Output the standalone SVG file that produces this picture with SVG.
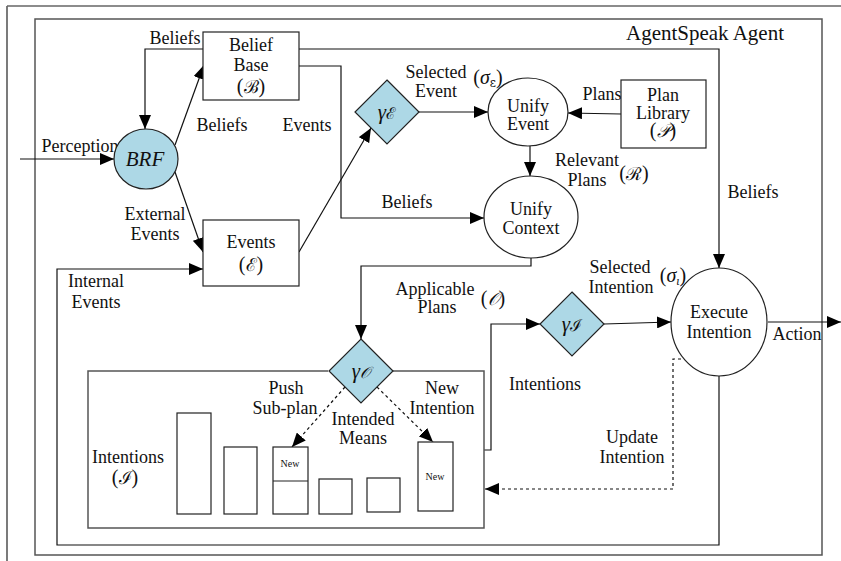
<svg xmlns="http://www.w3.org/2000/svg" width="841" height="561" viewBox="0 0 841 561">
  <style>
    text { font-family: "Liberation Serif", "DejaVu Serif", serif; font-size: 18px; fill: #111; text-anchor: middle; }
    .big { font-size: 21px; }
    .math { font-family: "DejaVu Serif", "Liberation Serif", serif; font-size: 18px; }
    .it { font-style: italic; }
    .tiny { font-size: 10px; }
    .frame { fill: none; stroke: #555; stroke-width: 1.5; }
    .box { fill: #fff; stroke: #222; stroke-width: 1.2; }
    .sel { fill: #add8e6; stroke: #222; stroke-width: 1.2; }
    .conn { fill: none; stroke: #111; stroke-width: 1.2; }
    .dash { stroke-dasharray: 3 3; }
  </style>
  <defs>
    <marker id="arrow" viewBox="0 0 14 12" markerWidth="14" markerHeight="12" refX="14" refY="6" orient="auto" markerUnits="userSpaceOnUse">
      <path d="M0,0 L14,6 L0,12 z" fill="#000"/>
    </marker>
  </defs>

  <!-- outer frame -->
  <path d="M7,561 V6" stroke="#222" stroke-width="1.2" fill="none"/>
  <path d="M7,6 H841" stroke="#666" stroke-width="1.5" fill="none"/>
  <!-- agent boundary -->
  <g id="agent">
    <rect class="frame" x="35" y="19" width="787" height="536"/>
    <text class="big" x="705" y="40">AgentSpeak Agent</text>
  </g>

  <g id="connectors">
    <path class="conn" d="M20,159 H114" marker-end="url(#arrow)"/>
    <path class="conn" d="M203,49 H145 V129" marker-end="url(#arrow)"/>
    <path class="conn" d="M175,145 L204,65" marker-end="url(#arrow)"/>
    <path class="conn" d="M175,172 L203,252" marker-end="url(#arrow)"/>
    <path class="conn" d="M299,49 H719 V268" marker-end="url(#arrow)"/>
    <path class="conn" d="M299,66 H341 V218 H484" marker-end="url(#arrow)"/>
    <path class="conn" d="M299,252 L371,128" marker-end="url(#arrow)"/>
    <path class="conn" d="M419,112 H488" marker-end="url(#arrow)"/>
    <path class="conn" d="M621,114 L568,113" marker-end="url(#arrow)"/>
    <path class="conn" d="M530,146 V176" marker-end="url(#arrow)"/>
    <path class="conn" d="M531,258 V266 H361 V339" marker-end="url(#arrow)"/>
    <path class="conn" d="M484,450 H491 V324 H540" marker-end="url(#arrow)"/>
    <path class="conn" d="M604,324 L671,322" marker-end="url(#arrow)"/>
    <path class="conn" d="M768,322 H841" marker-end="url(#arrow)"/>
    <path class="conn frame" d="M719,376 V545 H57 V269 H203" marker-end="url(#arrow)"/>
    <path class="conn dash" d="M687,359 H673 V489 H485" marker-end="url(#arrow)"/>
    <path class="conn dash" d="M345,387 L292,447" marker-end="url(#arrow)"/>
    <path class="conn dash" d="M377,387 L433,442" marker-end="url(#arrow)"/>
  </g>

  <!-- connector labels -->
  <g id="labels">
    <text x="80" y="152">Perception</text>
    <text x="175" y="44">Beliefs</text>
    <text x="222" y="131">Beliefs</text>
    <text x="307" y="131">Events</text>
    <text x="155" y="220">External</text>
    <text x="155" y="240">Events</text>
    <text x="96" y="287">Internal</text>
    <text x="96" y="308">Events</text>
    <text x="407" y="208">Beliefs</text>
    <text x="436" y="78">Selected</text>
    <text x="436" y="97">Event</text>
    <text x="488" y="84" style="font-size:20px">(<tspan class="it">σ</tspan><tspan class="math" style="font-size:12px" dy="3">ε</tspan><tspan dy="-3">)</tspan></text>
    <text x="602" y="100">Plans</text>
    <text x="587" y="166">Relevant</text>
    <text x="587" y="186">Plans</text>
    <text x="634" y="180" style="font-size:20px">(<tspan class="math" style="font-size:18px">ℛ</tspan>)</text>
    <text x="753" y="198">Beliefs</text>
    <text x="435" y="295">Applicable</text>
    <text x="437" y="313">Plans</text>
    <text x="493" y="305" style="font-size:20px">(<tspan class="math it" style="font-size:18px">𝒪</tspan>)</text>
    <text x="620" y="273">Selected</text>
    <text x="621" y="293">Intention</text>
    <text x="673" y="282" style="font-size:20px">(<tspan class="it">σ</tspan><tspan class="it" style="font-size:12px" dy="3">ι</tspan><tspan dy="-3">)</tspan></text>
    <text x="797" y="340">Action</text>
    <text x="545" y="390">Intentions</text>
    <text x="632" y="443">Update</text>
    <text x="632" y="463">Intention</text>
    <text x="286" y="394">Push</text>
    <text x="285" y="414">Sub-plan</text>
    <text x="363" y="425">Intended</text>
    <text x="363" y="444">Means</text>
    <text x="442" y="394">New</text>
    <text x="442" y="414">Intention</text>
  </g>

  <g id="brf">
    <ellipse class="sel" cx="146" cy="159" rx="32" ry="30"/>
    <text class="it" x="145" y="166" style="font-size:21px">BRF</text>
  </g>

  <g id="belief-base">
    <rect class="box" x="203" y="32" width="96" height="68"/>
    <text x="251" y="51">Belief</text>
    <text x="251" y="71">Base</text>
    <text x="251" y="93" style="font-size:20px">(<tspan class="math" style="font-size:18px">ℬ</tspan>)</text>
  </g>

  <g id="events">
    <rect class="box" x="203" y="220" width="96" height="66"/>
    <text x="251" y="248">Events</text>
    <text x="251" y="271" style="font-size:20px">(<tspan class="math" style="font-size:18px">ℰ</tspan>)</text>
  </g>

  <g id="select-event">
    <path class="sel" d="M387,80 L419,112 L387,144 L355,112 z"/>
    <text x="387" y="119" style="font-size:21px"><tspan class="it">γ</tspan><tspan class="math" style="font-size:16px">ℰ</tspan></text>
  </g>

  <g id="unify-event">
    <ellipse class="box" cx="528" cy="112" rx="40" ry="34"/>
    <text x="528" y="112">Unify</text>
    <text x="528" y="130">Event</text>
  </g>

  <g id="plan-library">
    <rect class="box" x="621" y="80" width="85" height="68"/>
    <text x="663" y="101">Plan</text>
    <text x="663" y="119">Library</text>
    <text x="663" y="137" style="font-size:20px">(<tspan class="math it" style="font-size:18px">𝒫</tspan>)</text>
  </g>

  <g id="unify-context">
    <ellipse class="box" cx="531" cy="217" rx="47" ry="41"/>
    <text x="531" y="215">Unify</text>
    <text x="531" y="234">Context</text>
  </g>

  <g id="intentions">
    <path class="frame" d="M328,371 H88 V528 H484 V371 H393"/>
    <text x="128" y="463">Intentions</text>
    <text x="125" y="484" style="font-size:20px">(<tspan class="math" style="font-size:18px">ℐ</tspan>)</text>
    <rect class="box" x="177" y="413" width="34" height="101"/>
    <rect class="box" x="224" y="447" width="33" height="67"/>
    <rect class="box" x="273" y="447" width="35" height="67"/>
    <line x1="273" y1="481" x2="308" y2="481" stroke="#222" stroke-width="1.2"/>
    <text class="tiny" x="290" y="467">New</text>
    <rect class="box" x="319" y="479" width="33" height="35"/>
    <rect class="box" x="367" y="478" width="33" height="34"/>
    <rect class="box" x="418" y="442" width="35" height="69"/>
    <text class="tiny" x="435" y="480">New</text>
  </g>

  <g id="select-option">
    <path class="sel" d="M361,339 L393,371 L361,403 L329,371 z"/>
    <text x="361" y="378" style="font-size:21px"><tspan class="it">γ</tspan><tspan class="math it" style="font-size:16px">𝒪</tspan></text>
  </g>

  <g id="select-intention">
    <path class="sel" d="M572,292 L604,324 L572,356 L540,324 z"/>
    <text x="572" y="331" style="font-size:21px"><tspan class="it">γ</tspan><tspan class="math" style="font-size:16px">ℐ</tspan></text>
  </g>

  <g id="execute-intention">
    <ellipse class="box" cx="719" cy="322" rx="48" ry="54"/>
    <text x="719" y="318">Execute</text>
    <text x="719" y="338">Intention</text>
  </g>
</svg>
